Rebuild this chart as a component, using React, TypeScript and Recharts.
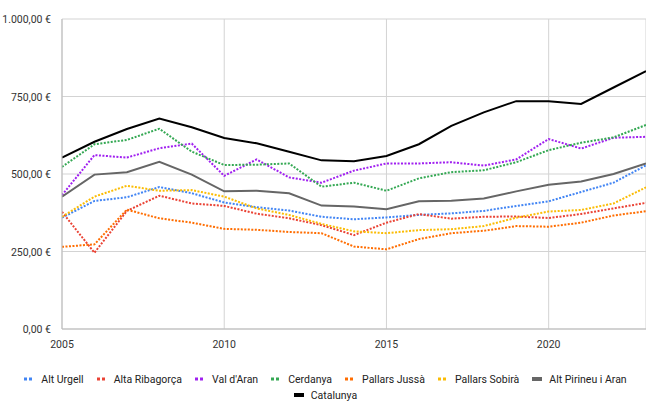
import React from 'react';
import { LineChart, Line, XAxis, YAxis, CartesianGrid, Legend } from 'recharts';

const years = [2005, 2006, 2007, 2008, 2009, 2010, 2011, 2012, 2013, 2014, 2015, 2016, 2017, 2018, 2019, 2020, 2021, 2022, 2023];
const altUrgell = [359, 413, 425, 458, 438, 408, 393, 382, 362, 354, 360, 368, 373, 381, 397, 412, 442, 472, 528];
const altaRibagorca = [378, 246, 381, 430, 405, 397, 372, 357, 335, 303, 343, 371, 356, 362, 363, 358, 371, 389, 407];
const valDAran = [432, 561, 553, 583, 598, 494, 547, 489, 472, 511, 534, 534, 538, 527, 547, 613, 582, 617, 620];
const cerdanya = [523, 596, 610, 646, 572, 529, 530, 534, 459, 472, 446, 486, 506, 512, 538, 577, 601, 618, 658];
const pallarsJussa = [265, 273, 385, 357, 343, 323, 320, 313, 309, 266, 257, 290, 309, 317, 332, 330, 343, 366, 380];
const pallarsSobira = [362, 427, 462, 446, 448, 427, 389, 368, 339, 315, 309, 319, 322, 332, 359, 379, 384, 405, 457];
const altPirineu = [427, 498, 506, 539, 498, 444, 446, 438, 398, 395, 386, 412, 414, 421, 444, 465, 476, 500, 534];
const catalunya = [553, 604, 645, 679, 651, 616, 599, 572, 544, 541, 558, 596, 655, 699, 735, 735, 726, 779, 832];

const xTicks = [2005, 2010, 2015, 2020];
const yTicks = [0, 250, 500, 750, 1000];

const series = [
  { key: 'altUrgell', name: 'Alt Urgell', values: altUrgell, color: '#4285F4', dotted: true },
  { key: 'altaRibagorca', name: 'Alta Ribagorça', values: altaRibagorca, color: '#EA4335', dotted: true },
  { key: 'valDAran', name: "Val d'Aran", values: valDAran, color: '#A020F0', dotted: true },
  { key: 'cerdanya', name: 'Cerdanya', values: cerdanya, color: '#34A853', dotted: true },
  { key: 'pallarsJussa', name: 'Pallars Jussà', values: pallarsJussa, color: '#FF6D01', dotted: true },
  { key: 'pallarsSobira', name: 'Pallars Sobirà', values: pallarsSobira, color: '#FBBC04', dotted: true },
  { key: 'altPirineu', name: 'Alt Pirineu i Aran', values: altPirineu, color: '#666666', dotted: false },
  { key: 'catalunya', name: 'Catalunya', values: catalunya, color: '#000000', dotted: false },
];

const data = years.map((y, i) => {
  const row: Record<string, number> = { year: y };
  series.forEach((s) => { row[s.key] = s.values[i]; });
  return row;
});

const fmtEuro = (v: number) => {
  const [i, d] = v.toFixed(2).split('.');
  const ii = i.replace(/\B(?=(\d{3})+(?!\d))/g, '.');
  return `${ii},${d} €`;
};

const FONT = 'Roboto, Arial, sans-serif';

const YTick = (props: any) => {
  const { x, y, payload } = props;
  return (
    <text x={x} y={y} dy={4} textAnchor="end" fill="#333" fontSize={10.5} fontFamily={FONT}>
      {fmtEuro(payload.value)}
    </text>
  );
};

const XTick = (props: any) => {
  const { x, y, payload } = props;
  return (
    <text x={x} y={y} dy={9} textAnchor="middle" fill="#333" fontSize={10.5} fontFamily={FONT}>
      {payload.value}
    </text>
  );
};

const Icon = ({ color, dotted }: { color: string; dotted: boolean }) => (
  <svg width={10} height={8} style={{ display: 'block' }}>
    {dotted ? (
      <>
        <rect x={0} y={2.5} width={3} height={3} fill={color} />
        <rect x={5} y={2.5} width={3} height={3} fill={color} />
      </>
    ) : (
      <rect x={0} y={2} width={10} height={4} fill={color} />
    )}
  </svg>
);

const Item = ({ s }: { s: typeof series[number] }) => (
  <div style={{ display: 'flex', alignItems: 'center', marginRight: 13 }}>
    <Icon color={s.color} dotted={s.dotted} />
    <span style={{ marginLeft: 7, whiteSpace: 'nowrap' }}>{s.name}</span>
  </div>
);

const LegendContent = () => (
  <div style={{ fontFamily: FONT, fontSize: 10.5, color: '#222', width: 646, paddingLeft: 18, boxSizing: 'border-box' }}>
    <div style={{ display: 'flex', justifyContent: 'center', height: 16, alignItems: 'center' }}>
      {series.slice(0, 7).map((s) => <Item key={s.key} s={s} />)}
    </div>
    <div style={{ display: 'flex', justifyContent: 'center', height: 16, alignItems: 'center' }}>
      {series.slice(7).map((s) => <Item key={s.key} s={s} />)}
    </div>
  </div>
);

export default function App() {
  return (
    <div style={{ position: 'absolute', left: 0, top: 0, width: 646, height: 401, background: '#fff' }}>
      <LineChart width={646} height={401} data={data} margin={{ top: 19, right: 0, left: 0, bottom: 0 }}>
        <CartesianGrid stroke="#d3d3d3" vertical={true} horizontal={true} />
        <XAxis
          dataKey="year"
          type="number"
          domain={[2005, 2023]}
          ticks={xTicks}
          tickLine={false}
          axisLine={{ stroke: '#bbbbbb' }}
          tick={<XTick />}
          tickMargin={4}
          height={30}
          allowDataOverflow
        />
        <YAxis
          type="number"
          domain={[0, 1000]}
          ticks={yTicks}
          tickLine={false}
          axisLine={{ stroke: '#bbbbbb' }}
          tick={<YTick />}
          tickMargin={5}
          width={62}
        />
        <Legend
          verticalAlign="bottom"
          height={42}
          content={() => <LegendContent />}
          wrapperStyle={{ top: 371, left: 0, bottom: 'auto', width: 646 }}
        />
        {series.map((s) => (
          <Line
            key={s.key}
            dataKey={s.key}
            name={s.name}
            type="linear"
            stroke={s.color}
            strokeWidth={2}
            strokeDasharray={s.dotted ? '2 1.5' : undefined}
            dot={false}
            activeDot={false}
            isAnimationActive={false}
          />
        ))}
      </LineChart>
    </div>
  );
}
